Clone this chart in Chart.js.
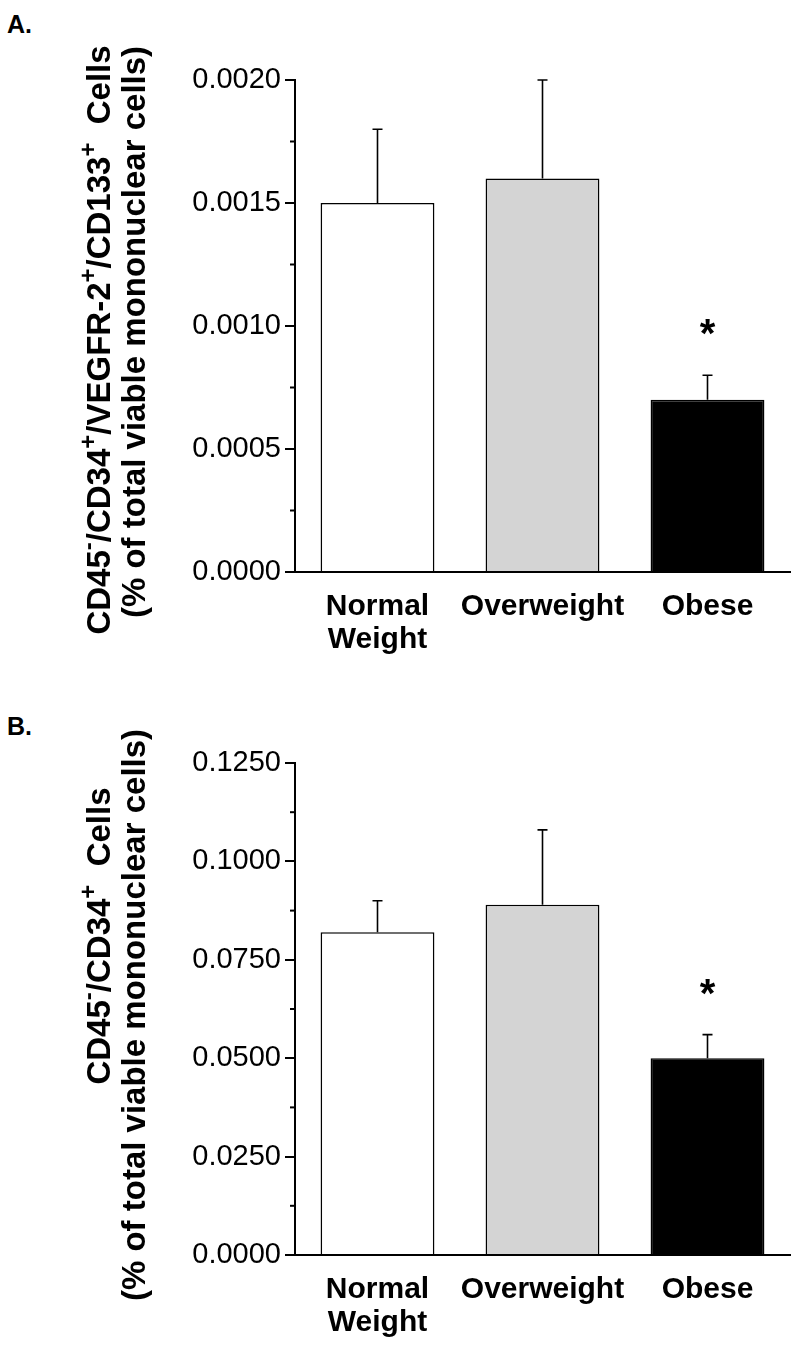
<!DOCTYPE html>
<html>
<head>
<meta charset="utf-8">
<script src="https://cdn.jsdelivr.net/npm/chart.js@4.4.1/dist/chart.umd.min.js"></script>
<style>
    body { margin: 0; background: #fff; width: 800px; height: 1350px; position: relative; font-family: "Liberation Sans", Arial, sans-serif; }
    .panel { position: absolute; left: 0; width: 800px; }
    #panelA { top: 0; height: 680px; }
    #panelB { top: 680px; height: 670px; }
    .tag { position: absolute; left: 7px; font-weight: bold; font-size: 25px; line-height: 25px; }
</style>
</head>
<body>
<div class="tag" style="top:12px">A.</div>
<div class="tag" style="top:714px">B.</div>
<div class="panel" id="panelA"><canvas id="chartA"></canvas></div>
<div class="panel" id="panelB"><canvas id="chartB"></canvas></div>
<script>
const groups = [['Normal', 'Weight'], 'Overweight', 'Obese'];
const fills = ['#ffffff', '#d4d4d4', '#000000'];
const starred = [false, false, true];

// panel A - CD45-/CD34+/VEGFR-2+/CD133+ cells
const progenitorMean = [0.0015, 0.0016, 0.0007];
const progenitorSem = [0.0003, 0.0004, 0.0001];
const progenitorTicks = [0, 0.0005, 0.0010, 0.0015, 0.0020];

// panel B - CD45-/CD34+ cells
const cd34Mean = [0.082, 0.089, 0.050];
const cd34Sem = [0.008, 0.019, 0.006];
const cd34Ticks = [0, 0.025, 0.050, 0.075, 0.100, 0.125];

const titleA = [['CD45'], ['-', true], ['/CD34'], ['+', true], ['/VEGFR-2'], ['+', true], ['/CD133'], ['+', true], ['  Cells']];
const titleB = [['CD45'], ['-', true], ['/CD34'], ['+', true], ['  Cells']];
const titleSub = [['(% of total viable mononuclear cells)']];

const FONT = '"Liberation Sans", Arial, sans-serif';

// rotated axis title, with raised superscripts
function drawRotated(ctx, segs, size, baseX, centerY) {
    const big = `bold ${size}px ${FONT}`;
    const small = `bold ${Math.round(size * 0.72)}px ${FONT}`;
    let total = 0;
    const widths = segs.map(([t, sup]) => {
        ctx.font = sup ? small : big;
        const w = ctx.measureText(t).width;
        total += w;
        return w;
    });
    ctx.save();
    ctx.translate(baseX, centerY);
    ctx.rotate(-Math.PI / 2);
    ctx.fillStyle = '#000';
    ctx.textBaseline = 'alphabetic';
    let x = -total / 2;
    segs.forEach(([t, sup], i) => {
        ctx.font = sup ? small : big;
        ctx.fillText(t, x, sup ? -size * 0.42 : 0);
        x += widths[i];
    });
    ctx.restore();
}

function overlay(means, sems, ticks, title, titleShift) {
    return {
        id: 'overlay',
        afterDraw(chart) {
            const ctx = chart.ctx;
            const y = chart.scales.y;
            const area = chart.chartArea;
            const meta = chart.getDatasetMeta(0);
            ctx.save();
            ctx.strokeStyle = '#000';

            // minor ticks halfway between the labelled ones
            ctx.lineWidth = 2;
            for (let i = 0; i < ticks.length - 1; i++) {
                const py = y.getPixelForValue((ticks[i] + ticks[i + 1]) / 2);
                ctx.beginPath();
                ctx.moveTo(area.left - 5, py);
                ctx.lineTo(area.left, py);
                ctx.stroke();
            }

            // upper error bars + significance star
            ctx.lineWidth = 1.6;
            meta.data.forEach((bar, i) => {
                const top = y.getPixelForValue(means[i] + sems[i]);
                ctx.beginPath();
                ctx.moveTo(bar.x, bar.y);
                ctx.lineTo(bar.x, top);
                ctx.moveTo(bar.x - 5, top);
                ctx.lineTo(bar.x + 5, top);
                ctx.stroke();
                if (starred[i]) {
                    ctx.font = `bold 40px ${FONT}`;
                    ctx.fillStyle = '#000';
                    ctx.textAlign = 'center';
                    ctx.textBaseline = 'alphabetic';
                    ctx.fillText('*', bar.x, top - 51 + 0.58 * 40);
                }
            });
            ctx.restore();

            const mid = (area.top + area.bottom) / 2;
            drawRotated(ctx, title, 33, 110, mid + titleShift);
            drawRotated(ctx, titleSub, 33, 145, mid + 6);
        }
    };
}

function makePanel(id, means, sems, ticks, title, titleShift, padTop, axisHeight) {
    const ctx = document.getElementById(id).getContext('2d');
    return new Chart(ctx, {
        type: 'bar',
        data: {
            labels: groups,
            datasets: [{
                data: means,
                backgroundColor: fills,
                borderColor: '#000',
                borderWidth: 1.6,
                barPercentage: 0.69,
                categoryPercentage: 1
            }]
        },
        options: {
            responsive: true,
            maintainAspectRatio: false,
            animation: false,
            layout: { padding: { top: padTop, right: 10, left: 0, bottom: 0 } },
            plugins: { legend: { display: false }, tooltip: { enabled: false } },
            scales: {
                x: {
                    z: 1,
                    grid: { display: false },
                    border: { color: '#000', width: 2 },
                    ticks: {
                        color: '#000',
                        padding: 11,
                        autoSkip: false,
                        maxRotation: 0,
                        font: { family: FONT, size: 30, weight: 'bold', lineHeight: 1.08 }
                    },
                    afterFit: s => { s.height = axisHeight; }
                },
                y: {
                    z: 1,
                    min: ticks[0],
                    max: ticks[ticks.length - 1],
                    grid: { drawOnChartArea: false, color: '#000', lineWidth: 2, tickLength: 10 },
                    border: { color: '#000', width: 2 },
                    afterBuildTicks: s => { s.ticks = ticks.map(v => ({ value: v })); },
                    ticks: {
                        color: '#000',
                        padding: 4,
                        font: { family: FONT, size: 29 },
                        callback: v => Number(v).toFixed(4)
                    },
                    afterFit: s => { s.width = 295; }
                }
            }
        },
        plugins: [overlay(means, sems, ticks, title, titleShift)]
    });
}

makePanel('chartA', progenitorMean, progenitorSem, progenitorTicks, titleA, 14, 80, 108);
makePanel('chartB', cd34Mean, cd34Sem, cd34Ticks, titleB, -73, 83, 95);
</script>
</body>
</html>
